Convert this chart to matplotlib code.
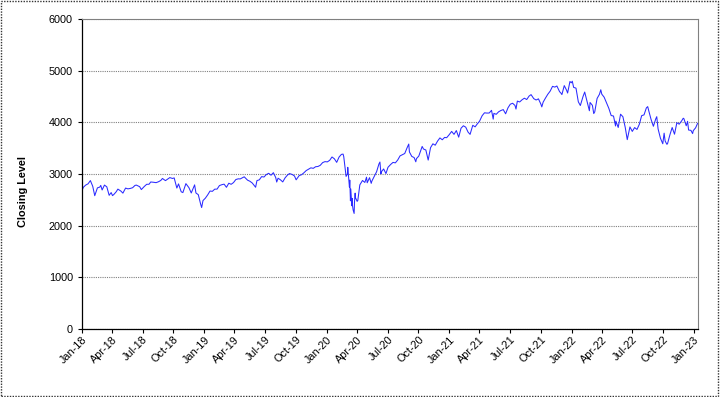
import matplotlib
matplotlib.use("Agg")
import matplotlib.pyplot as plt
import matplotlib.dates as mdates
from matplotlib.patches import Rectangle
import pandas as pd

# closing levels (approximate)
dates_2018 = ["2018-01-02", "2018-01-05", "2018-01-12", "2018-01-19", "2018-01-26", "2018-02-02",
              "2018-02-08", "2018-02-16", "2018-02-23", "2018-02-26", "2018-03-02", "2018-03-09",
              "2018-03-16", "2018-03-23", "2018-03-29", "2018-04-02", "2018-04-06", "2018-04-13",
              "2018-04-18", "2018-04-27", "2018-05-03", "2018-05-11", "2018-05-18", "2018-05-25",
              "2018-06-01", "2018-06-08", "2018-06-12", "2018-06-22", "2018-06-27", "2018-07-06",
              "2018-07-13", "2018-07-20", "2018-07-25", "2018-08-03", "2018-08-10", "2018-08-17",
              "2018-08-24", "2018-08-29", "2018-09-07", "2018-09-14", "2018-09-20", "2018-09-28",
              "2018-10-03", "2018-10-11", "2018-10-16", "2018-10-24", "2018-10-29", "2018-11-07",
              "2018-11-16", "2018-11-23", "2018-12-03", "2018-12-07", "2018-12-14", "2018-12-21",
              "2018-12-24", "2018-12-28"]
close_2018 = [2695, 2743, 2786, 2810, 2873, 2762, 2581, 2732, 2747, 2780, 2691, 2786,
              2752, 2588, 2641, 2582, 2604, 2656, 2708, 2670, 2630, 2728, 2713, 2721,
              2735, 2779, 2786, 2755, 2699, 2760, 2801, 2802, 2846, 2840, 2833, 2850,
              2875, 2914, 2872, 2905, 2931, 2914, 2925, 2728, 2809, 2656, 2641, 2814,
              2736, 2633, 2790, 2633, 2600, 2417, 2351, 2486]

dates_2019 = ["2019-01-04", "2019-01-11", "2019-01-18", "2019-01-25", "2019-02-01", "2019-02-08",
              "2019-02-15", "2019-02-22", "2019-03-01", "2019-03-08", "2019-03-15", "2019-03-22",
              "2019-03-29", "2019-04-05", "2019-04-12", "2019-04-18", "2019-04-30", "2019-05-10",
              "2019-05-17", "2019-05-24", "2019-06-03", "2019-06-07", "2019-06-14", "2019-06-21",
              "2019-06-28", "2019-07-05", "2019-07-12", "2019-07-19", "2019-07-26", "2019-08-02",
              "2019-08-05", "2019-08-09", "2019-08-16", "2019-08-23", "2019-08-30", "2019-09-06",
              "2019-09-12", "2019-09-20", "2019-09-27", "2019-10-02", "2019-10-11", "2019-10-18",
              "2019-10-25", "2019-11-01", "2019-11-08", "2019-11-15", "2019-11-22", "2019-11-29",
              "2019-12-06", "2019-12-13", "2019-12-20", "2019-12-27"]
close_2019 = [2532, 2596, 2671, 2665, 2707, 2708, 2776, 2793, 2804, 2743, 2822, 2801,
              2834, 2893, 2907, 2905, 2946, 2881, 2860, 2826, 2744, 2873, 2887, 2950,
              2942, 2990, 3014, 2977, 3026, 2932, 2845, 2919, 2889, 2847, 2926, 2979,
              3009, 2992, 2962, 2888, 2970, 2986, 3023, 3067, 3093, 3120, 3110, 3141,
              3146, 3169, 3221, 3240]

dates_2020 = ["2020-01-03", "2020-01-10", "2020-01-17", "2020-01-24", "2020-01-31", "2020-02-07",
              "2020-02-14", "2020-02-19", "2020-02-21", "2020-02-28", "2020-03-03", "2020-03-04",
              "2020-03-06", "2020-03-09", "2020-03-10", "2020-03-12", "2020-03-13", "2020-03-16",
              "2020-03-17", "2020-03-18", "2020-03-20", "2020-03-23", "2020-03-24", "2020-03-26",
              "2020-03-27", "2020-04-01", "2020-04-03", "2020-04-09", "2020-04-17", "2020-04-24",
              "2020-04-29", "2020-05-01", "2020-05-08", "2020-05-13", "2020-05-15", "2020-05-22",
              "2020-05-29", "2020-06-05", "2020-06-08", "2020-06-11", "2020-06-12", "2020-06-19",
              "2020-06-26", "2020-07-02", "2020-07-10", "2020-07-17", "2020-07-24", "2020-07-31",
              "2020-08-07", "2020-08-14", "2020-08-21", "2020-08-28", "2020-09-02", "2020-09-04",
              "2020-09-11", "2020-09-18", "2020-09-23", "2020-09-25", "2020-10-02", "2020-10-09",
              "2020-10-12", "2020-10-16", "2020-10-23", "2020-10-30", "2020-11-06", "2020-11-13",
              "2020-11-20", "2020-11-27", "2020-12-04", "2020-12-11", "2020-12-18", "2020-12-24",
              "2020-12-31"]
close_2020 = [3235, 3265, 3330, 3295, 3226, 3328, 3380, 3386, 3338, 2954, 3003, 3130,
              2972, 2747, 2882, 2481, 2711, 2386, 2529, 2398, 2305, 2237, 2447, 2630,
              2541, 2471, 2489, 2790, 2875, 2837, 2939, 2831, 2930, 2820, 2864, 2955,
              3044, 3194, 3232, 3002, 3041, 3098, 3009, 3130, 3185, 3225, 3216, 3271,
              3351, 3373, 3397, 3508, 3580, 3427, 3341, 3319, 3237, 3298, 3348, 3477,
              3534, 3484, 3465, 3270, 3510, 3585, 3558, 3638, 3699, 3663, 3709, 3703,
              3756]

dates_2021 = ["2021-01-08", "2021-01-15", "2021-01-22", "2021-01-29", "2021-02-05", "2021-02-12",
              "2021-02-19", "2021-02-26", "2021-03-04", "2021-03-12", "2021-03-19", "2021-03-26",
              "2021-04-01", "2021-04-09", "2021-04-16", "2021-04-23", "2021-04-30", "2021-05-07",
              "2021-05-12", "2021-05-14", "2021-05-21", "2021-05-28", "2021-06-04", "2021-06-11",
              "2021-06-18", "2021-06-25", "2021-07-02", "2021-07-09", "2021-07-16", "2021-07-19",
              "2021-07-23", "2021-07-30", "2021-08-06", "2021-08-13", "2021-08-20", "2021-08-27",
              "2021-09-02", "2021-09-10", "2021-09-17", "2021-09-24", "2021-10-01", "2021-10-04",
              "2021-10-08", "2021-10-15", "2021-10-22", "2021-10-29", "2021-11-05", "2021-11-12",
              "2021-11-18", "2021-11-26", "2021-11-30", "2021-12-03", "2021-12-10", "2021-12-17",
              "2021-12-20", "2021-12-27", "2021-12-31"]
close_2021 = [3825, 3768, 3841, 3714, 3887, 3934, 3907, 3811, 3768, 3943, 3913, 3975,
              4020, 4129, 4185, 4180, 4181, 4233, 4063, 4174, 4156, 4204, 4230, 4247,
              4166, 4281, 4352, 4370, 4327, 4258, 4412, 4395, 4437, 4468, 4442, 4509,
              4537, 4459, 4433, 4455, 4357, 4300, 4391, 4471, 4545, 4605, 4697, 4683,
              4704, 4595, 4567, 4538, 4712, 4621, 4568, 4791, 4766]

dates_2022 = ["2022-01-03", "2022-01-07", "2022-01-14", "2022-01-21", "2022-01-27", "2022-02-04",
              "2022-02-09", "2022-02-18", "2022-02-23", "2022-02-25", "2022-03-04", "2022-03-08",
              "2022-03-11", "2022-03-18", "2022-03-25", "2022-03-29", "2022-04-01", "2022-04-08",
              "2022-04-14", "2022-04-22", "2022-04-29", "2022-05-06", "2022-05-12", "2022-05-13",
              "2022-05-20", "2022-05-27", "2022-06-03", "2022-06-10", "2022-06-16", "2022-06-24",
              "2022-07-01", "2022-07-08", "2022-07-15", "2022-07-22", "2022-07-29", "2022-08-05",
              "2022-08-12", "2022-08-16", "2022-08-19", "2022-08-26", "2022-09-02", "2022-09-09",
              "2022-09-12", "2022-09-16", "2022-09-23", "2022-09-30", "2022-10-04", "2022-10-07",
              "2022-10-12", "2022-10-14", "2022-10-21", "2022-10-28", "2022-11-04", "2022-11-11",
              "2022-11-18", "2022-11-25", "2022-11-30", "2022-12-02", "2022-12-09", "2022-12-13",
              "2022-12-16", "2022-12-23", "2022-12-28", "2022-12-30", "2023-01-06", "2023-01-12"]
close_2022 = [4797, 4677, 4663, 4398, 4326, 4500, 4587, 4349, 4225, 4385, 4329, 4170,
              4204, 4463, 4543, 4631, 4546, 4488, 4393, 4272, 4132, 4123, 3930, 4024,
              3901, 4158, 4109, 3901, 3666, 3912, 3825, 3899, 3863, 3962, 4130, 4145,
              4280, 4305, 4228, 4058, 3924, 4067, 4110, 3873, 3693, 3586, 3791, 3640,
              3577, 3583, 3753, 3901, 3771, 3993, 3965, 4026, 4080, 4072, 3934, 4020,
              3852, 3845, 3783, 3840, 3895, 3983]

y_ticks = [0, 1000, 2000, 3000, 4000, 5000, 6000]

dates = pd.to_datetime(dates_2018 + dates_2019 + dates_2020 + dates_2021 + dates_2022)
close = close_2018 + close_2019 + close_2020 + close_2021 + close_2022

plt.rcParams['font.family'] = ['Liberation Sans', 'DejaVu Sans']

fig = plt.figure(figsize=(7.2, 3.97), dpi=100)
ax = fig.add_axes([0.1139, 0.1713, 0.8555, 0.7807])

ax.plot(dates, close, color='#2a2aff', lw=0.75)

ax.set_ylim(0, 6000)
ax.set_yticks(y_ticks)
ax.set_xlim(pd.Timestamp("2018-01-01"), pd.Timestamp("2023-01-13"))
ax.xaxis.set_major_locator(mdates.MonthLocator(bymonth=[1, 4, 7, 10]))
ax.xaxis.set_major_formatter(mdates.DateFormatter('%b-%y'))

ax.grid(axis='y', color='#808080', ls=(0, (1, 1)), lw=0.8)
ax.set_axisbelow(True)

for s in ['top', 'right']:
    ax.spines[s].set_color('#808080')
    ax.spines[s].set_linestyle((0, (1, 1)))
    ax.spines[s].set_linewidth(0.8)
for s in ['left', 'bottom']:
    ax.spines[s].set_color('black')
    ax.spines[s].set_linewidth(0.9)

ax.tick_params(axis='both', direction='out', length=3, width=0.8, labelsize=7.8, colors='black')
ax.tick_params(axis='x', pad=1)
for lab in ax.get_xticklabels():
    lab.set_rotation(45)
    lab.set_ha('right')
    lab.set_rotation_mode('anchor')

ax.set_ylabel('Closing Level', fontsize=7.8, fontweight='bold')
ax.yaxis.set_label_coords(-0.087, 0.445)

# outer chart border (dotted)
fig.patches.append(Rectangle((0.001, 0.003), 0.996, 0.995, transform=fig.transFigure,
                             fill=False, ec='#333333', lw=1.0, ls=(0, (1, 1))))

fig.savefig('out.png', dpi=100)
